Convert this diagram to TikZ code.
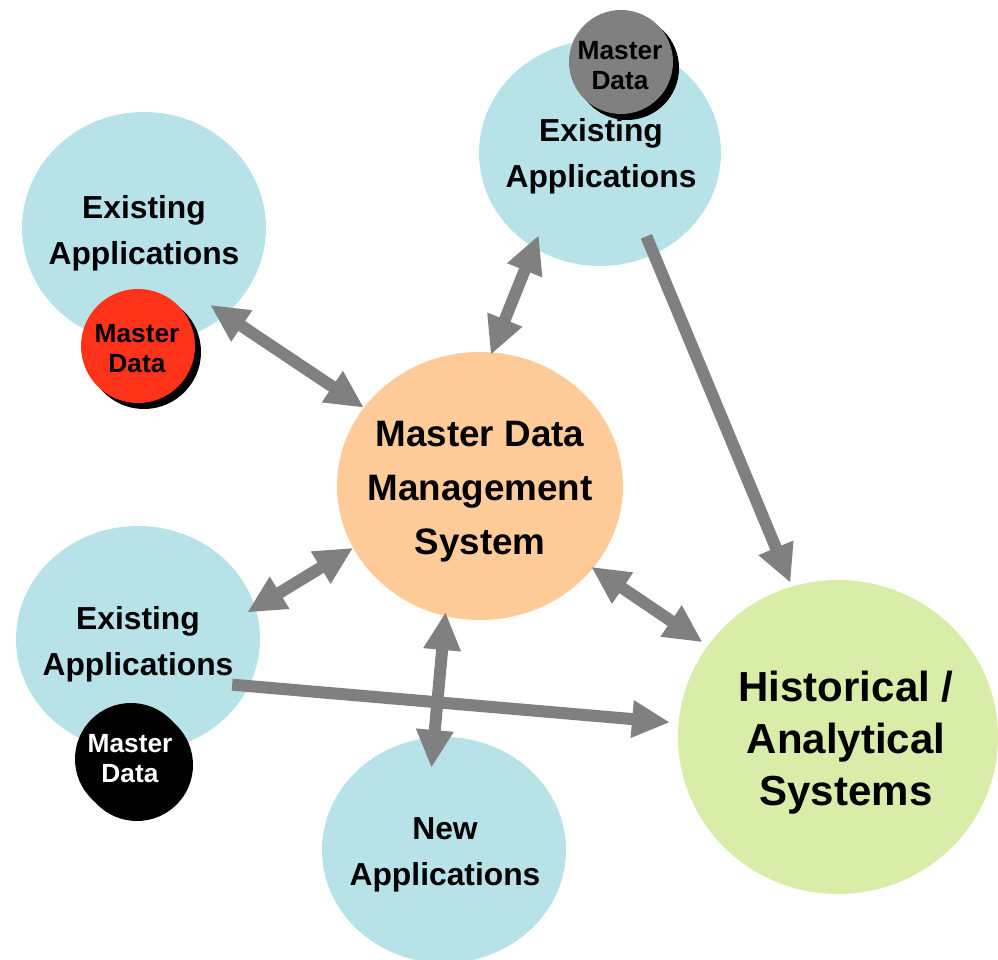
\documentclass[tikz,border=0pt]{standalone}
\usepackage{fontspec}
\setmainfont{Liberation Sans}
\usetikzlibrary{shapes.geometric,arrows.meta,shadows}
\definecolor{appblue}{RGB}{183,227,232}
\definecolor{mdmorange}{RGB}{255,204,153}
\definecolor{histgreen}{RGB}{215,237,168}
\definecolor{mdred}{RGB}{255,51,26}
\definecolor{arrowgray}{RGB}{128,128,128}
\begin{document}
\begin{tikzpicture}[x=1pt,y=-1pt,
  blob/.style={ellipse,inner sep=0pt,outer sep=0pt},
  appcircle/.style={blob,fill=appblue,minimum width=244pt,minimum height=226pt},
  apptext/.style={align=center,inner sep=0pt,font=\fontsize{31.8pt}{46pt}\selectfont\bfseries},
  mdcircle/.style={circle,inner sep=0pt,outer sep=0pt,minimum size=#1,
    drop shadow={shadow xshift=6pt,shadow yshift=-6pt,opacity=1,fill=black}},
  mdtext/.style={align=center,inner sep=0pt,font=\fontsize{26.3pt}{30pt}\selectfont\bfseries},
  flow/.style={draw=arrowgray,line width=12pt,arrows={-Triangle[length=38pt,width=35pt,fill=arrowgray]}},
  flowboth/.style={draw=arrowgray,line width=12pt,arrows={Triangle[length=38pt,width=35pt,fill=arrowgray]-Triangle[length=38pt,width=35pt,fill=arrowgray]}}
]
\useasboundingbox (0,0) rectangle (998,960);

% top-left existing applications
\node[appcircle,minimum height=232pt] (tl) at (144,228) {};
\node[apptext] (tlt) at (144,233) {Existing\\Applications};
\node[mdcircle=114pt,fill=mdred] (mdA) at (138,346) {};
\node[mdtext] (mdAt) at (137,348.5) {Master\\Data};

% top-right existing applications
\node[appcircle,minimum width=242pt] (tr) at (600,153) {};
\node[apptext] (trt) at (601,156.5) {Existing\\Applications};
\node[mdcircle=104pt,fill=arrowgray] (mdB) at (621,62) {};
\node[mdtext] (mdBt) at (620,65.5) {Master\\Data};

% bottom-left existing applications
\node[appcircle] (bl) at (138,639) {};
\node[apptext] (blt) at (138,644) {Existing\\Applications};
\node[mdcircle=112pt,fill=black] (mdC) at (131,759) {};
\node[mdtext,text=white] (mdCt) at (130,758.5) {Master\\Data};

% new applications
\node[appcircle] (new) at (444,850) {};
\node[apptext] (newt) at (445,854.5) {New\\Applications};

% master data management system
\node[blob,fill=mdmorange,minimum width=286pt,minimum height=268pt] (mdm) at (480,486) {};
\node[align=center,inner sep=0pt,font=\fontsize{36.8pt}{54pt}\selectfont\bfseries] (mdmt) at (480,491.5) {Master Data\\Management\\System};

% historical / analytical systems
\node[blob,fill=histgreen,minimum width=320pt,minimum height=314pt] (hist) at (838,737) {};
\node[align=center,inner sep=0pt,font=\fontsize{42pt}{52pt}\selectfont\bfseries] (histt) at (846,743) {Historical /\\Analytical\\Systems};

% connectors
\draw[flowboth,shorten <=-17.8pt] (tl.-47.1) -- (mdm.146.3);
\draw[flowboth,shorten <=-13.5pt,shorten >=-2.6pt] (tr.-125.9) -- (mdm.85.2);
\draw[flow,shorten <=-19.3pt,shorten >=4pt] (tr.-62.7) -- (hist.107.3);
\draw[flowboth,shorten <=-9.4pt] (bl.15.2) -- (mdm.-154);
\draw[flowboth,shorten <=-2.3pt,shorten >=6.3pt] (mdm.-36.7) -- (hist.145.35);
\draw[flow,shorten <=-16.8pt,shorten >=8.6pt] (bl.-23.2) -- (hist.175.2);
\draw[flowboth,shorten <=-4pt,shorten >=-30.7pt] (mdm.-105.1) -- (new.95.9);
\end{tikzpicture}
\end{document}
